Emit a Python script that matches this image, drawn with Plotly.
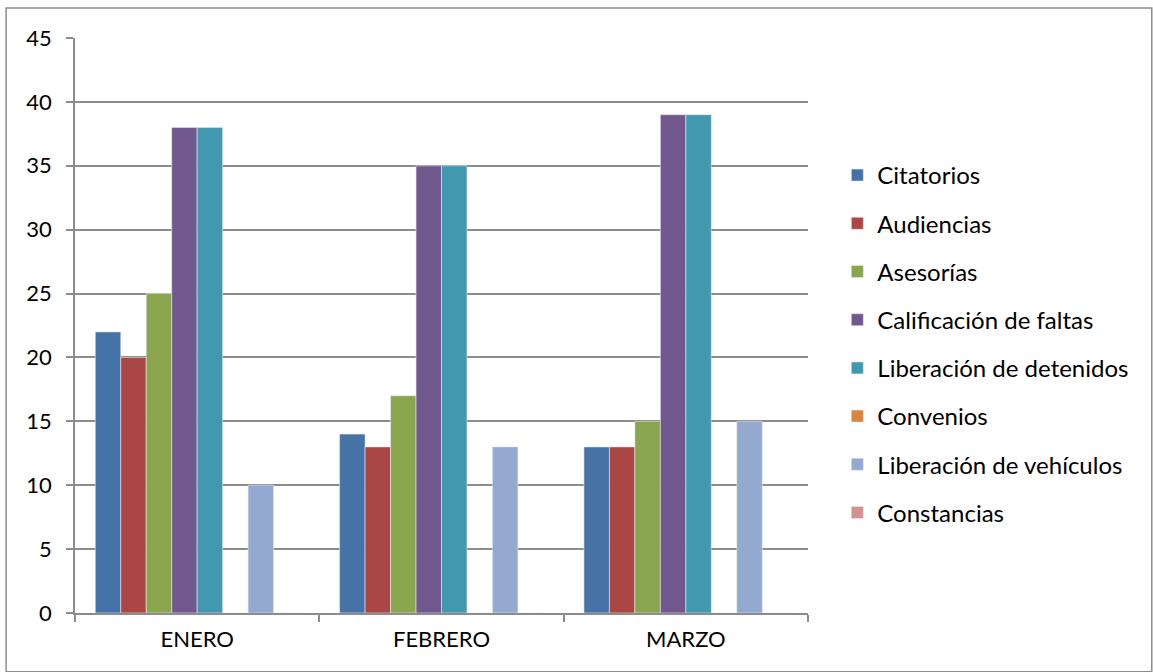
import plotly.graph_objects as go

meses = ['ENERO', 'FEBRERO', 'MARZO']
citatorios = [22, 14, 13]
audiencias = [20, 13, 13]
asesorias = [25, 17, 15]
calificacion_faltas = [38, 35, 39]
liberacion_detenidos = [38, 35, 39]
convenios = [0, 0, 0]
liberacion_vehiculos = [10, 13, 15]
constancias = [0, 0, 0]

series = [
    ('Citatorios', citatorios, '#4572A7'),
    ('Audiencias', audiencias, '#AA4643'),
    ('Asesorías', asesorias, '#89A54E'),
    ('Calificación de faltas', calificacion_faltas, '#71588F'),
    ('Liberación de detenidos', liberacion_detenidos, '#4198AF'),
    ('Convenios', convenios, '#DB843D'),
    ('Liberación de vehículos', liberacion_vehiculos, '#93A9CF'),
    ('Constancias', constancias, '#D19392'),
]

fig = go.Figure()
for i, (nombre, valores, color) in enumerate(series):
    fig.add_trace(go.Bar(x=meses, y=valores, name=nombre, legendgroup=str(i),
                         marker=dict(color=color, line=dict(color='#e8e8f0', width=0.6))))

grid = '#8c8c8c'
fig.update_layout(
    width=1153, height=672,
    margin=dict(l=75, r=345, t=38, b=59),
    paper_bgcolor='white', plot_bgcolor='white',
    font=dict(family='Lato, Open Sans, sans-serif', size=22, color='black'),
    barmode='group', bargap=0.166, bargroupgap=0,
    showlegend=True,
    legend=dict(x=1.04, y=0.80, xanchor='left', yanchor='top',
                font=dict(size=24), tracegroupgap=14, itemwidth=30,
                bgcolor='rgba(0,0,0,0)'),
)
fig.update_yaxes(range=[0, 45], dtick=5, showgrid=True, gridcolor=grid, gridwidth=1.5,
                 showline=True, linecolor=grid, linewidth=1.5,
                 ticks='outside', ticklen=7, tickcolor=grid, tickwidth=1.5,
                 zeroline=False, tickfont=dict(size=22), ticklabelstandoff=10)
fig.update_xaxes(showline=True, linecolor=grid, linewidth=1.5,
                 ticks='outside', ticklen=7, tickcolor=grid, tickwidth=1.5,
                 tickson='boundaries', tickfont=dict(size=22), ticklabelstandoff=6)

# borde exterior del gráfico
fig.add_shape(type='rect', xref='paper', yref='paper',
              x0=-0.094, x1=1.469, y0=-0.102, y1=1.052,
              line=dict(color='#8c8c8c', width=1.5), layer='below')

fig.write_html("out.html", config={'displayModeBar': False},
               post_script="document.body.style.margin='0';")
